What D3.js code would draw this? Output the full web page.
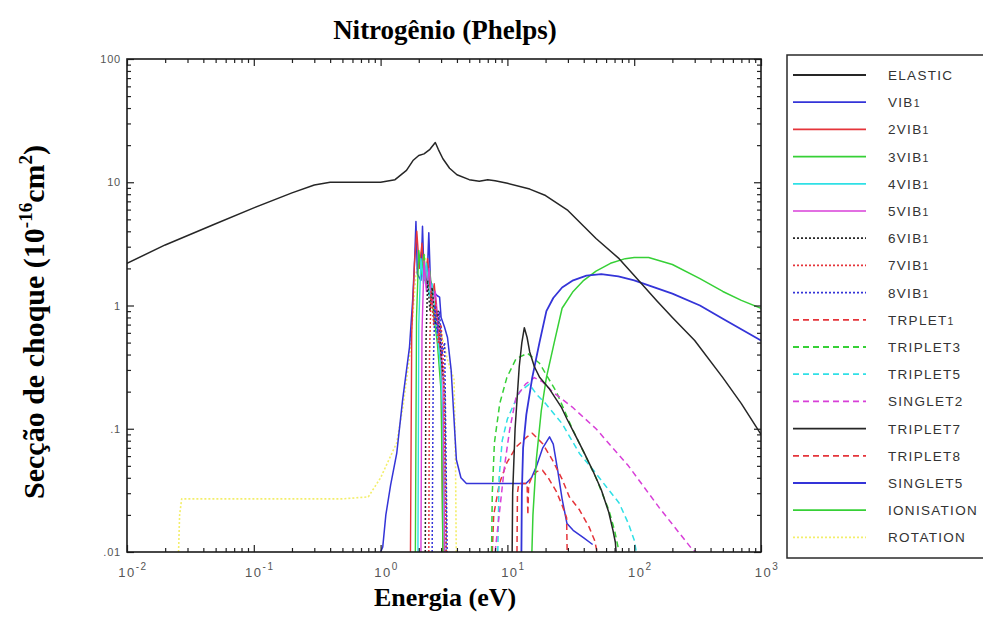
<!DOCTYPE html>
<html>
<head>
<meta charset="utf-8">
<script src="https://cdn.jsdelivr.net/npm/d3@7"></script>
<style>
  body { margin: 0; background: #fff; }
  svg { display: block; }
</style>
</head>
<body>
<svg id="chart" width="983" height="620"></svg>
<script>
// Electron collision cross sections for N2 (Phelps set): [energy eV, sigma 1e-16 cm2]
const elastic = [[0.01,2.2],[0.02,3.1],[0.05,4.6],[0.1,6.2],[0.2,8.2],[0.3,9.5],[0.4,10],[0.6,10],[1.0,10],[1.3,10.5],[1.6,12.5],[1.8,15],[2.0,16.5],[2.2,17],[2.45,18.5],[2.7,21],[2.85,18.5],[3.1,15.5],[3.5,13],[4.0,11.5],[5,10.5],[6,10.2],[7,10.5],[8,10.3],[10,9.8],[15,8.8],[20,7.8],[30,5.9],[50,3.5],[76,2.4],[100,1.75],[150,1.1],[200,0.8],[300,0.52],[500,0.26],[700,0.16],[1000,0.09]];
const vib1 = [[1.0,0.01],[1.04,0.011],[1.1,0.02],[1.2,0.035],[1.34,0.063],[1.49,0.17],[1.69,0.46],[1.79,1.1],[1.86,2.5],[1.9,4.8],[1.95,1.8],[2.08,1.6],[2.14,4.4],[2.2,1.8],[2.32,1.5],[2.4,3.9],[2.47,1.6],[2.6,1.3],[2.8,1.2],[2.92,1.17],[3.0,0.8],[3.19,0.67],[3.37,0.55],[3.6,0.3],[3.96,0.056],[4.3,0.04],[4.75,0.036],[14,0.036],[15.5,0.04],[17,0.05],[19,0.07],[21.5,0.086],[23,0.075],[25,0.045],[27,0.027],[29.5,0.017],[33,0.015],[40,0.013],[47,0.0115]];
const vib2 = [[1.72,0.01],[1.76,0.6],[1.85,2.2],[1.93,4.0],[2.02,2.0],[2.12,3.2],[2.22,1.6],[2.35,2.4],[2.5,1.1],[2.65,1.5],[2.85,0.6],[3.0,0.35],[3.1,0.01]];
const vib3 = [[1.88,0.01],[1.92,0.8],[2.0,2.8],[2.1,1.8],[2.2,2.6],[2.3,1.4],[2.45,1.9],[2.6,0.9],[2.8,0.5],[3.0,0.2],[3.1,0.01]];
const vib4 = [[1.97,0.01],[2.0,0.7],[2.08,2.4],[2.18,1.5],[2.3,2.2],[2.42,1.2],[2.55,1.5],[2.75,0.7],[2.95,0.35],[3.1,0.12],[3.2,0.01]];
const vib5 = [[2.08,0.01],[2.12,0.6],[2.2,2.3],[2.3,1.3],[2.42,2.0],[2.55,1.0],[2.7,1.3],[2.9,0.6],[3.1,0.3],[3.2,0.01]];
const vib6 = [[2.25,0.01],[2.28,0.5],[2.35,1.6],[2.45,0.9],[2.55,1.4],[2.7,0.7],[2.85,0.9],[3.0,0.4],[3.2,0.2],[3.3,0.01]];
const vib7 = [[2.4,0.01],[2.43,0.4],[2.5,1.3],[2.62,0.7],[2.72,1.1],[2.85,0.5],[3.0,0.7],[3.15,0.3],[3.3,0.01]];
const vib8 = [[2.55,0.01],[2.6,0.3],[2.68,1.0],[2.8,0.6],[2.92,0.9],[3.05,0.4],[3.2,0.5],[3.35,0.01]];
const triplet1 = [[7.6,0.01],[7.8,0.02],[8.65,0.036],[9.9,0.053],[11.7,0.071],[14.1,0.085],[15.7,0.092],[18.9,0.076],[22.6,0.056],[27,0.039],[30.8,0.028],[37,0.022],[44,0.016],[48.6,0.0125],[51,0.01]];
const triplet3 = [[7.5,0.01],[7.6,0.03],[7.9,0.077],[8.7,0.16],[9.9,0.26],[11.7,0.37],[14.4,0.41],[17.9,0.34],[24.3,0.2],[32.5,0.1],[42,0.058],[50,0.04],[63,0.022],[70,0.015],[76,0.01]];
const triplet5 = [[8.4,0.01],[8.6,0.04],[9.1,0.08],[10,0.12],[11,0.15],[12.5,0.2],[14.9,0.23],[17,0.19],[20,0.16],[27,0.11],[37,0.063],[47,0.047],[60,0.034],[76,0.025],[90,0.017],[100,0.0125],[104,0.01]];
const singlet2 = [[8.0,0.01],[8.7,0.022],[9.5,0.05],[10.4,0.097],[11.7,0.18],[13.9,0.23],[16.3,0.26],[19,0.24],[22.6,0.2],[32.5,0.15],[50,0.1],[90,0.05],[157,0.023],[287,0.0105],[330,0.0095]];
const triplet7 = [[10.9,0.01],[11.0,0.03],[11.5,0.1],[12.4,0.32],[13,0.5],[13.6,0.66],[14.3,0.55],[15,0.42],[16.3,0.32],[18,0.26],[21.5,0.21],[26.6,0.15],[29.5,0.12],[35,0.085],[40,0.065],[47,0.046],[55,0.032],[63,0.021],[68,0.015],[71,0.012],[72,0.01]];
const triplet8 = [[11.9,0.01],[12.0,0.03],[12.3,0.036],[14.3,0.036],[14.5,0.02],[14.7,0.035],[15.5,0.04],[17,0.045],[18.9,0.046],[21,0.04],[24.3,0.031],[27,0.024],[29.3,0.019],[29.6,0.01]];
const singlet5 = [[12.9,0.01],[13.0,0.03],[13.3,0.07],[14.1,0.13],[15.7,0.26],[17.9,0.5],[20.3,0.9],[23,1.15],[27,1.4],[33,1.6],[42,1.75],[55,1.8],[75,1.72],[100,1.6],[200,1.25],[330,1.0],[500,0.78],[1000,0.52]];
const ionisation = [[15.6,0.01],[15.9,0.02],[16.9,0.056],[18.5,0.14],[20.3,0.26],[23.4,0.5],[27,0.95],[33,1.3],[40,1.6],[50,1.9],[65,2.2],[85,2.4],[100,2.45],[130,2.45],[200,2.15],[330,1.65],[500,1.3],[700,1.1],[1000,0.95]];
const rotation = [[0.0255,0.01],[0.026,0.02],[0.027,0.027],[0.1,0.027],[0.5,0.027],[0.8,0.028],[1.0,0.04],[1.34,0.077],[1.5,0.15],[1.7,0.4],[1.9,1.8],[2.1,2.8],[2.25,2.5],[2.45,1.6],[2.7,1.0],[3.0,0.6],[3.4,0.35],[3.8,0.25],[3.9,0.05],[3.95,0.01]];

const seriesNames = ["ELASTIC","VIB1","2VIB1","3VIB1","4VIB1","5VIB1","6VIB1","7VIB1","8VIB1","TRPLET1","TRIPLET3","TRIPLET5","SINGLET2","TRIPLET7","TRIPLET8","SINGLET5","IONISATION","ROTATION"];
const seriesValues = [elastic,vib1,vib2,vib3,vib4,vib5,vib6,vib7,vib8,triplet1,triplet3,triplet5,singlet2,triplet7,triplet8,singlet5,ionisation,rotation];

const energyTicks = [0.01,0.1,1,10,100,1000];
const energyExponents = ["-2","-1","0","1","2","3"];
const sigmaTicks = [100,10,1,0.1,0.01];
const sigmaLabels = ["100","10","1",".1",".01"];

// line styles per series
const BLACK = "#262626", BLUE = "#3434d8", RED = "#e5343a", GREEN = "#36d036",
      CYAN = "#2fe0e6", MAGENTA = "#d83fd8", YELLOW = "#f3ee6a";
const SOLID = null, DOT = "2,2", DASH = "6,4";
const styles = {
  "ELASTIC":[BLACK,SOLID,1.5], "VIB1":[BLUE,SOLID,1.5], "2VIB1":[RED,SOLID,1.4],
  "3VIB1":[GREEN,SOLID,1.4], "4VIB1":[CYAN,SOLID,1.4], "5VIB1":[MAGENTA,SOLID,1.4],
  "6VIB1":[BLACK,DOT,1.5], "7VIB1":[RED,DOT,1.5], "8VIB1":[BLUE,DOT,1.5],
  "TRPLET1":[RED,DASH,1.5], "TRIPLET3":[GREEN,DASH,1.5], "TRIPLET5":[CYAN,DASH,1.5],
  "SINGLET2":[MAGENTA,DASH,1.5], "TRIPLET7":[BLACK,SOLID,1.5], "TRIPLET8":[RED,DASH,1.5],
  "SINGLET5":[BLUE,SOLID,1.8], "IONISATION":[GREEN,SOLID,1.5], "ROTATION":[YELLOW,DOT,1.6]
};

const L = 127, R = 761, T = 59, B = 552;
const svg = d3.select("#chart");
const x = d3.scaleLog().domain([0.01, 1000]).range([L, R]);
const y = d3.scaleLog().domain([0.01, 100]).range([B, T]);

svg.append("defs").append("clipPath").attr("id", "plotclip")
  .append("rect").attr("x", L).attr("y", T).attr("width", R - L).attr("height", B - T);

// curves
const line = d3.line().x(d => x(d[0])).y(d => y(d[1]));
const curves = svg.append("g").attr("clip-path", "url(#plotclip)");
const drawOrder = [17,1,2,3,4,5,6,7,8,9,10,11,12,14,16,15,13,0];
drawOrder.forEach(i => {
  const st = styles[seriesNames[i]];
  curves.append("path")
    .datum(seriesValues[i])
    .attr("d", line)
    .attr("fill", "none")
    .attr("stroke", st[0])
    .attr("stroke-width", st[2])
    .attr("stroke-dasharray", st[1])
    .attr("stroke-linejoin", "round");
});

// axes: ticks pointing into the frame on all four sides
const isDecade = v => Math.abs(Math.log10(v) - Math.round(Math.log10(v))) < 1e-6;
const xMinor = x.ticks().filter(v => !isDecade(v));
const yMinor = y.ticks().filter(v => !isDecade(v));
function styleAxis(g) {
  g.select(".domain").remove();
  g.selectAll(".tick line").attr("stroke", "#222").attr("stroke-width", 1.2);
  g.selectAll(".tick text").remove();
}
const axes = svg.append("g");
[[d3.axisBottom, B], [d3.axisTop, T]].forEach(([ax, pos]) => {
  axes.append("g").attr("transform", `translate(0,${pos})`)
    .call(ax(x).tickValues(energyTicks).tickSize(-7).tickFormat("")).call(styleAxis);
  axes.append("g").attr("transform", `translate(0,${pos})`)
    .call(ax(x).tickValues(xMinor).tickSize(-4).tickFormat("")).call(styleAxis);
});
[[d3.axisLeft, L], [d3.axisRight, R]].forEach(([ax, pos]) => {
  axes.append("g").attr("transform", `translate(${pos},0)`)
    .call(ax(y).tickValues(sigmaTicks).tickSize(-7).tickFormat("")).call(styleAxis);
  axes.append("g").attr("transform", `translate(${pos},0)`)
    .call(ax(y).tickValues(yMinor).tickSize(-4).tickFormat("")).call(styleAxis);
});
svg.append("rect").attr("x", L).attr("y", T).attr("width", R - L).attr("height", B - T)
  .attr("fill", "none").attr("stroke", "#1a1a1a").attr("stroke-width", 1.6);

// tick labels
const tickFont = "'Liberation Sans', Arial, sans-serif";
const xl = svg.append("g").attr("font-family", tickFont).attr("fill", "#555");
energyTicks.forEach((v, i) => {
  const t = xl.append("text").attr("x", x(v) + 6).attr("y", 577)
    .attr("text-anchor", "middle").attr("letter-spacing", 1.5);
  t.append("tspan").attr("font-size", 13).text("10");
  t.append("tspan").attr("font-size", 10).attr("dy", -7).text(energyExponents[i]);
});
const yl = svg.append("g").attr("font-family", tickFont).attr("fill", "#555")
  .attr("font-size", 11).attr("text-anchor", "end");
sigmaTicks.forEach((v, i) => {
  yl.append("text").attr("x", 121).attr("y", y(v) + 4).attr("letter-spacing", 0.8).text(sigmaLabels[i]);
});

// titles
const serif = "'Liberation Serif', 'Times New Roman', serif";
svg.append("text").attr("x", 445).attr("y", 39).attr("text-anchor", "middle")
  .attr("font-family", serif).attr("font-weight", "bold").attr("font-size", 27)
  .attr("fill", "#000").text("Nitrogênio (Phelps)");
svg.append("text").attr("x", 445).attr("y", 606).attr("text-anchor", "middle")
  .attr("font-family", serif).attr("font-weight", "bold").attr("font-size", 26)
  .attr("fill", "#000").text("Energia (eV)");
const yt = svg.append("text").attr("transform", "translate(44,322) rotate(-90)")
  .attr("text-anchor", "middle").attr("font-family", serif).attr("font-weight", "bold")
  .attr("font-size", 30).attr("fill", "#000");
yt.append("tspan").text("Secção de choque (10");
yt.append("tspan").attr("font-size", 19).attr("dy", -12).text("-16");
yt.append("tspan").attr("dy", 12).text("cm");
yt.append("tspan").attr("font-size", 19).attr("dy", -12).text("2");
yt.append("tspan").attr("dy", 12).text(")");

// legend
const lg = svg.append("g");
lg.append("rect").attr("x", 787).attr("y", 55).attr("width", 240).attr("height", 503)
  .attr("fill", "#fff").attr("stroke", "#2a2a2a").attr("stroke-width", 1.5);
seriesNames.forEach((name, i) => {
  const cy = 75 + i * 27.2;
  const st = styles[name];
  lg.append("line").attr("x1", 793).attr("x2", 866).attr("y1", cy).attr("y2", cy)
    .attr("stroke", st[0]).attr("stroke-width", st[2] + 0.3).attr("stroke-dasharray", st[1]);
  const t = lg.append("text").attr("x", 888).attr("y", cy + 5)
    .attr("font-family", tickFont).attr("font-size", 13.5).attr("letter-spacing", 1.3)
    .attr("fill", "#333");
  if (name.endsWith("1")) {
    t.append("tspan").text(name.slice(0, -1));
    t.append("tspan").attr("font-size", 10.5).text("1");
  } else {
    t.text(name);
  }
});
</script>
</body>
</html>
